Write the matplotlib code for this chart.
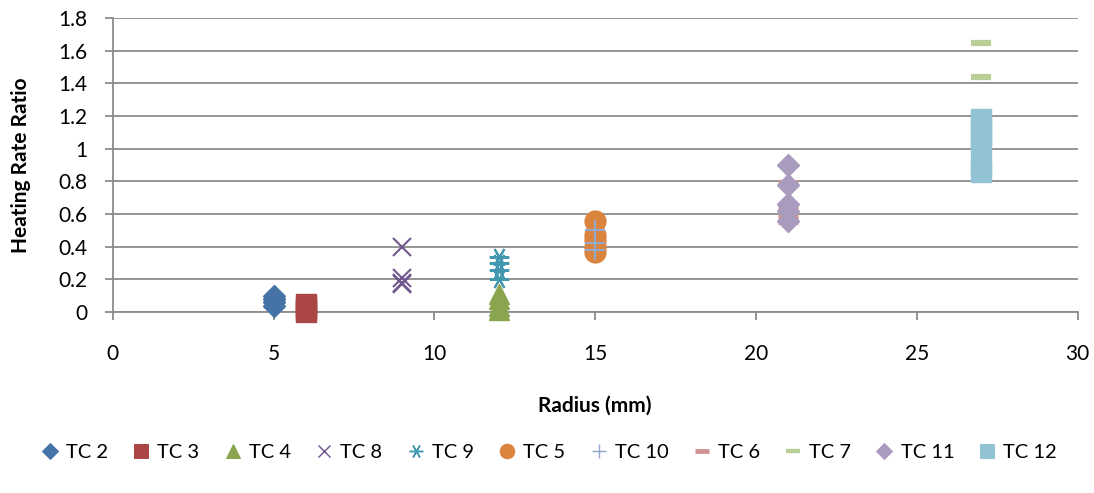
import matplotlib.pyplot as plt
from matplotlib.lines import Line2D

plt.rcParams['font.family'] = ['Lato', 'DejaVu Sans']

# data
tc2_x, tc2_y = 5, [0.10, 0.08, 0.06, 0.04]
tc3_x, tc3_y = 6, [0.05, 0.03, 0.01, 0.0]
tc4_x, tc4_y = 12, [0.11, 0.08, 0.04, 0.01]
tc8_x, tc8_y = 9, [0.40, 0.21, 0.18, 0.17]
tc9_x, tc9_y = 12, [0.34, 0.30, 0.26, 0.20]
tc5_x, tc5_y = 15, [0.56, 0.47, 0.44, 0.40, 0.37]
tc10_x, tc10_y = 15, [0.50, 0.42, 0.38]
tc6_x, tc6_y = 21, [0.79, 0.64, 0.60, 0.56]
tc7_x, tc7_y = 27, [1.65, 1.44, 0.95]
tc11_x, tc11_y = 21, [0.90, 0.78, 0.66, 0.62, 0.56]
tc12_x, tc12_y = 27, [1.18, 1.13, 1.08, 1.03, 0.90, 0.86]

series = [
    ('TC 2', tc2_x, tc2_y, dict(marker='D', color='#4572A7', ms=11)),
    ('TC 3', tc3_x, tc3_y, dict(marker='s', color='#AA4643', ms=14)),
    ('TC 4', tc4_x, tc4_y, dict(marker='^', color='#89A54E', ms=14)),
    ('TC 8', tc8_x, tc8_y, dict(marker='x', color='#71588F', ms=13, mew=1.5)),
    ('TC 9', tc9_x, tc9_y, dict(marker=(6, 2, 90), color='#4198AF', ms=14, mew=1.5)),
    ('TC 5', tc5_x, tc5_y, dict(marker='o', color='#DB843D', ms=15)),
    ('TC 10', tc10_x, tc10_y, dict(marker='+', color='#93A9CF', ms=14, mew=1.5)),
    ('TC 6', tc6_x, tc6_y, dict(marker='_', color='#D19392', ms=15, mew=5)),
    ('TC 7', tc7_x, tc7_y, dict(marker='_', color='#B9CD96', ms=15, mew=4.5)),
    ('TC 11', tc11_x, tc11_y, dict(marker='D', color='#A99BBD', ms=11)),
    ('TC 12', tc12_x, tc12_y, dict(marker='s', color='#92C3D5', ms=15)),
]

fig = plt.figure(figsize=(10.94, 4.93), dpi=100)
ax = fig.add_axes([0.103, 0.367, 0.882, 0.5965])

handles = []
for name, x, ys, st in series:
    ax.plot([x] * len(ys), ys, linestyle='none', mec=st['color'], mfc=st['color'],
            marker=st['marker'], ms=st['ms'], mew=st.get('mew', 1), zorder=3,
            clip_on=False)
    h = Line2D([], [], linestyle='none', marker=st['marker'], color=st['color'],
               mec=st['color'], mfc=st['color'], ms=st['ms'] * 0.7,
               mew=st.get('mew', 1) * 0.7)
    handles.append((h, name))

ax.set_xlim(0, 30)
ax.set_ylim(0, 1.8)
ax.set_xticks(range(0, 31, 5))
ax.set_yticks([0, 0.2, 0.4, 0.6, 0.8, 1, 1.2, 1.4, 1.6, 1.8])
ax.set_yticklabels(['0', '0.2', '0.4', '0.6', '0.8', '1', '1.2', '1.4', '1.6', '1.8'])
ax.yaxis.grid(True, color='#8c8c8c', lw=1.3)
ax.set_axisbelow(True)
for s in ['top', 'right']:
    ax.spines[s].set_visible(False)
for s in ['left', 'bottom']:
    ax.spines[s].set_color('#8c8c8c')
    ax.spines[s].set_linewidth(1.3)
ax.tick_params(axis='both', colors='#8c8c8c', labelcolor='black', labelsize=15,
               length=6, width=1.3)
ax.tick_params(axis='x', pad=17)
ax.tick_params(axis='y', pad=12)

ax.set_xlabel('Radius (mm)', fontsize=15, fontweight='bold', labelpad=23)
ax.set_ylabel('Heating Rate Ratio', fontsize=15, fontweight='bold', labelpad=20)

fig.legend([h for h, _ in handles], [n for _, n in handles], loc='center',
           bbox_to_anchor=(0.5, 0.083), ncol=11, frameon=False, fontsize=14.5,
           handletextpad=0.15, columnspacing=1.0, handlelength=1.3)

fig.savefig('out.png', dpi=100)
